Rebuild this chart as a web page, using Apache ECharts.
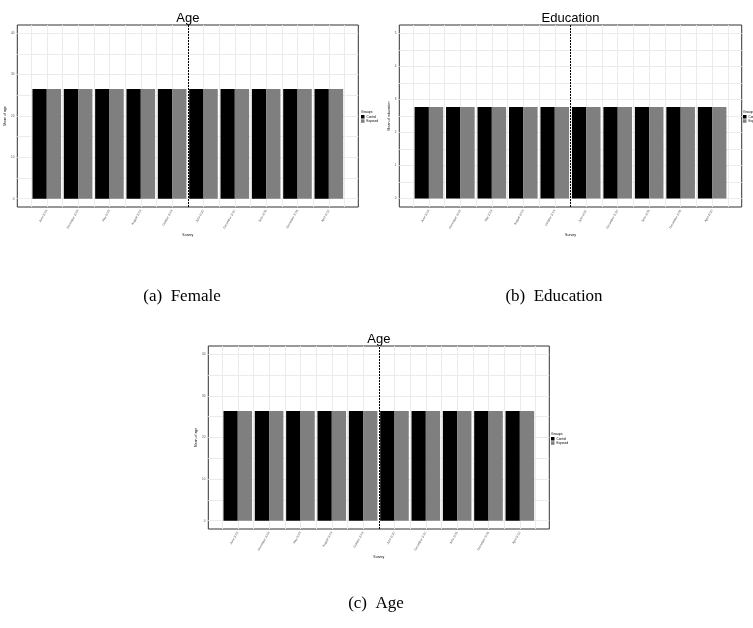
<!DOCTYPE html>
<html>
<head>
<meta charset="utf-8">
<script src="https://cdn.jsdelivr.net/npm/echarts@6/dist/echarts.min.js"></script>
<style>
html,body{margin:0;padding:0;background:#fff;}
#c{width:753px;height:628px;}
</style>
</head>
<body>
<div id="c"></div>
<script>
// ---- data ----
const categories = ['June 2008','December 2008','May 2009','August 2009','October 2009','June 2010','December 2010','June 2011','December 2011','April 2012'];
const groups = ['Control','Exposed'];
const femaleAgeControl = [26.5,26.5,26.5,26.5,26.5,26.5,26.5,26.5,26.5,26.5];
const femaleAgeExposed = [26.5,26.5,26.5,26.5,26.5,26.5,26.5,26.5,26.5,26.5];
const educationControl = [2.77,2.77,2.77,2.77,2.77,2.77,2.77,2.77,2.77,2.77];
const educationExposed = [2.77,2.77,2.77,2.77,2.77,2.77,2.77,2.77,2.77,2.77];
const ageControl = [26.4,26.4,26.4,26.4,26.4,26.4,26.4,26.4,26.4,26.4];
const ageExposed = [26.4,26.4,26.4,26.4,26.4,26.4,26.4,26.4,26.4,26.4];
const ageTicks = [0,10,20,30,40];
const educationTicks = [0,1,2,3,4,5];
const breakAt = 5.5;

// ---- helpers ----
const positions = categories.map((_, i) => i + 1);
function halfSteps(a, b, s) { const r = []; for (let v = a; v <= b + 1e-9; v += s) r.push(+v.toFixed(4)); return r; }
const xGrid = halfSteps(0.5, 10.5, 0.5);
const FONT = 'Liberation Sans';
const gridDefs = [
  {left: 17.3, top: 25, width: 341, height: 182},
  {left: 399.3, top: 25, width: 342.4, height: 182},
  {left: 208.3, top: 346, width: 341, height: 183}
];
const yDefs = [
  {min: -2, max: 42, ticks: ageTicks, minor: 5, name: 'Mean of age'},
  {min: -0.26, max: 5.26, ticks: educationTicks, minor: 0.5, name: 'Mean of education'},
  {min: -2, max: 42, ticks: ageTicks, minor: 5, name: 'Mean of age'}
];
const panelSeries = [
  [femaleAgeControl, femaleAgeExposed],
  [educationControl, educationExposed],
  [ageControl, ageExposed]
];
const titles = ['Age', 'Education', 'Age'];
const colors = ['#000000', '#7f7f7f'];

const grid = gridDefs.map(g => Object.assign({show: true, borderColor: '#333333', borderWidth: 1, backgroundColor: 'transparent', containLabel: false}, g));
const xAxis = gridDefs.map((g, i) => ({
  type: 'value', gridIndex: i, min: 0.06, max: 10.94,
  name: 'Survey', nameLocation: 'middle', nameGap: 24,
  nameTextStyle: {fontSize: 3.5, color: '#000', fontFamily: FONT},
  axisLine: {show: false},
  axisTick: {show: true, customValues: xGrid, length: 1.5, lineStyle: {color: '#ffffff', width: 0}},
  axisLabel: {show: true, customValues: positions, rotate: 60, fontSize: 3, color: '#4d4d4d', fontFamily: FONT, margin: 3,
    formatter: v => categories[Math.round(v) - 1] || ''},
  splitLine: {show: true, lineStyle: {color: '#ebebeb', width: 1}}
}));
const yAxis = yDefs.map((d, i) => ({
  type: 'value', gridIndex: i, min: d.min, max: d.max,
  name: d.name, nameLocation: 'middle', nameGap: 7,
  nameTextStyle: {fontSize: 3.5, color: '#000', fontFamily: FONT},
  axisLine: {show: false},
  axisTick: {show: true, customValues: halfSteps(0, d.ticks[d.ticks.length - 1], d.minor), length: 1.5, lineStyle: {color: '#ffffff', width: 0}},
  axisLabel: {show: true, customValues: d.ticks, fontSize: 3, color: '#4d4d4d', fontFamily: FONT, margin: 3},
  splitLine: {show: true, lineStyle: {color: '#ebebeb', width: 1}}
}));
const series = [];
panelSeries.forEach((pair, p) => {
  pair.forEach((vals, k) => {
    series.push({
      type: 'bar', name: groups[k], xAxisIndex: p, yAxisIndex: p,
      data: vals.map((v, i) => [positions[i], v]),
      barWidth: 14.3, barGap: '0%',
      itemStyle: {color: colors[k]},
      emphasis: {disabled: true}, animation: false
    });
  });
  series.push({
    type: 'line', name: 'break', xAxisIndex: p, yAxisIndex: p, data: [],
    markLine: {silent: true, symbol: 'none', label: {show: false},
      lineStyle: {color: '#000', type: [2, 1], width: 1},
      data: [{xAxis: breakAt}], animation: false}
  });
});
const legendPos = [{left: 361, top: 110}, {left: 743, top: 110}, {left: 551, top: 432}];
const legend = legendPos.map(lp => ({
  data: groups, orient: 'vertical', left: lp.left, top: lp.top + 5,
  itemWidth: 3.5, itemHeight: 3.5, itemGap: 0.8, padding: 0,
  icon: 'rect', textStyle: {fontSize: 3, color: '#000', fontFamily: FONT, padding: [0, 0, 0, -3]},
  selectedMode: false
}));
const title = titles.map((t, i) => ({
  text: t, left: gridDefs[i].left + gridDefs[i].width / 2, top: gridDefs[i].top - 13,
  textAlign: 'center', padding: 0,
  textStyle: {fontSize: 13, fontWeight: 'normal', color: '#000', fontFamily: FONT}
}));
const captions = [
  {text: '(a)  Female', x: 182, y: 297},
  {text: '(b)  Education', x: 554, y: 297},
  {text: '(c)  Age', x: 376, y: 604}
];
const graphic = captions.map(c => ({
  type: 'text', x: c.x, y: c.y,
  style: {text: c.text, font: '17px "Liberation Serif"', fill: '#000', textAlign: 'center', textVerticalAlign: 'middle'}
})).concat(legendPos.map(lp => ({
  type: 'text', x: lp.left, y: lp.top,
  style: {text: 'Groups', font: '3.5px "Liberation Sans"', fill: '#000', textAlign: 'left', textVerticalAlign: 'top'}
})));

const chart = echarts.init(document.getElementById('c'), null, {renderer: 'canvas', width: 753, height: 628});
chart.setOption({
  backgroundColor: '#ffffff', animation: false,
  title, grid, xAxis, yAxis, series, legend, graphic
});
</script>
</body>
</html>
